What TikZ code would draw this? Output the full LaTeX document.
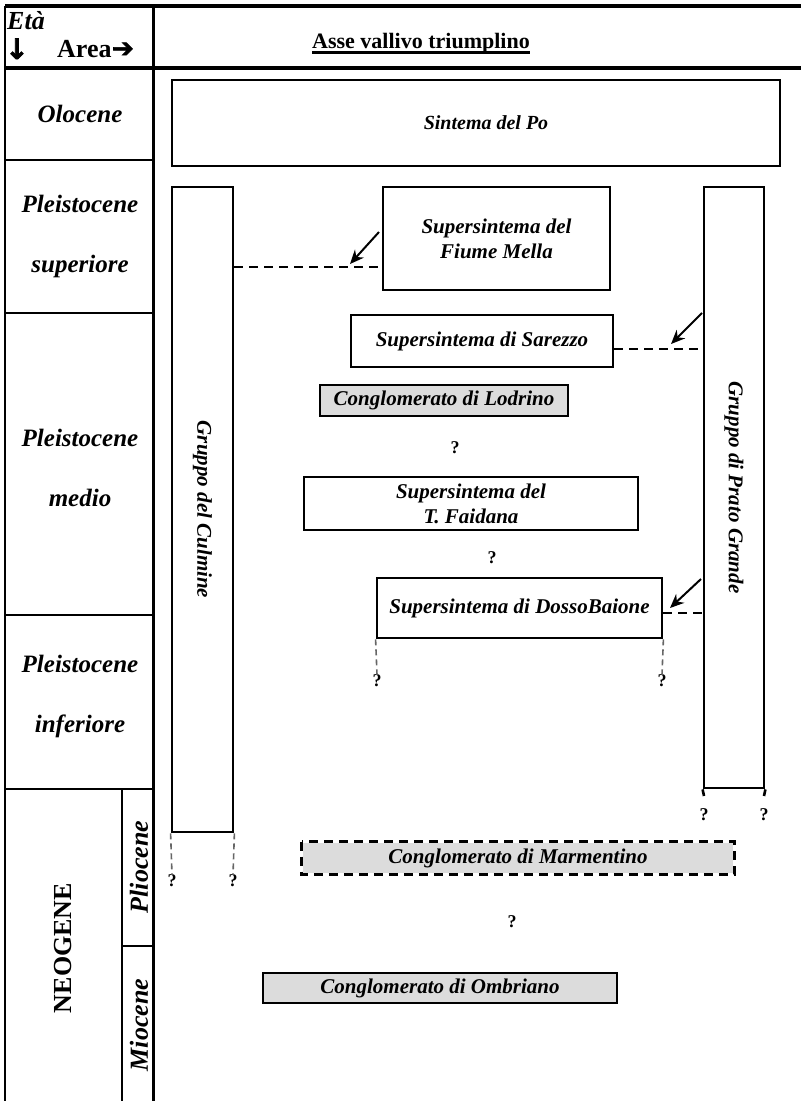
\documentclass[tikz,border=0pt]{standalone}
\usepackage{fontspec}
\setmainfont{Liberation Serif}
\newfontfamily\arrowfont{DejaVu Sans Bold}[FakeBold=2.5]
\usetikzlibrary{arrows.meta}
\definecolor{fillgray}{HTML}{DCDCDC}
\begin{document}
\begin{tikzpicture}[x=1pt,y=-1pt,
  box/.style={draw, line width=2.8pt, inner sep=0pt, align=center,
    font=\fontsize{21}{25}\selectfont\bfseries\itshape},
  graybox/.style={box, fill=fillgray},
  grouptext/.style={inner sep=0pt, font=\fontsize{21}{25}\selectfont\bfseries\itshape},
  agelabel/.style={inner sep=0pt, align=center, font=\fontsize{25}{60}\selectfont\bfseries\itshape},
  sidelabel/.style={inner sep=0pt, font=\fontsize{26}{26}\selectfont\bfseries\itshape},
  thickline/.style={line width=3.5pt},
  tline/.style={line width=2.6pt},
  thinline/.style={line width=1.8pt},
  dashlink/.style={line width=2.8pt, dash pattern=on 9pt off 6pt},
  qdash/.style={line width=1.6pt, dash pattern=on 6pt off 4pt, black!60},
  qmark/.style={inner sep=0pt, font=\fontsize{18}{18}\selectfont\bfseries},
  ptr/.style={line width=2pt, -{Stealth[length=14pt,width=12pt]}}
]
\useasboundingbox (0,0) rectangle (801,1101);

% ---- table frame ----
\coordinate (tl) at (5,6);
\coordinate (tr) at (801,6);
\coordinate (hl) at (5,68);
\coordinate (hr) at (801,68);
\coordinate (bl) at (5,1101);
\coordinate (ct) at (153,6);
\coordinate (cb) at (153,1101);
\draw[thickline] (tl) -- (tr);
\draw[thickline] (hl) -- (hr);
\draw[thinline] (tl) -- (bl);
\draw[line width=3pt] (ct) -- (cb);
\foreach \yy/\nm in {160/r1, 313/r2, 615/r3, 789/r4}{
  \coordinate (\nm l) at (5,\yy);
  \coordinate (\nm r) at (153,\yy);
  \draw[tline] (\nm l) -- (\nm r);
}
\coordinate (nt) at (122,789);
\coordinate (nb) at (122,1101);
\draw[tline] (nt) -- (nb);
\coordinate (pml) at (122,946);
\coordinate (pmr) at (153,946);
\draw[thinline] (pml) -- (pmr);

% ---- header ----
\node[inner sep=0pt, anchor=base west, font=\fontsize{26}{26}\selectfont\bfseries\itshape] (eta) at (7,29) {Età};
\node[inner sep=0pt, anchor=base west, font=\fontsize{28}{28}\selectfont\arrowfont] (darr) at (5,59) {↓};
\node[inner sep=0pt, anchor=base west, font=\fontsize{26}{26}\selectfont\bfseries] (area) at (57,57) {Area};
\node[inner sep=0pt, anchor=base west, font=\fontsize{26}{26}\selectfont\arrowfont] (rarr) at (area.base east) {➔};
\node[inner sep=0pt, anchor=base, font=\fontsize{22}{22}\selectfont\bfseries] (title) at (421,48) {Asse vallivo triumplino};
\draw[line width=3.5pt] ([yshift=-4.5pt]title.base west) -- ([yshift=-4.5pt]title.base east);

% ---- age labels ----
\node[agelabel] (olo) at (80,114) {Olocene};
\node[agelabel] (psup) at (80,236) {Pleistocene\\superiore};
\node[agelabel] (pmed) at (80,468) {Pleistocene\\medio};
\node[agelabel] (pinf) at (80,696) {Pleistocene\\inferiore};
\node[inner sep=0pt, rotate=90, font=\fontsize{26}{26}\selectfont\bfseries] (neo) at (63,948) {NEOGENE};
\node[sidelabel, rotate=90] (plio) at (139,867) {Pliocene};
\node[sidelabel, rotate=90] (mio) at (139,1025) {Miocene};

% ---- units ----
\node[box, font=\fontsize{20}{24}\selectfont\bfseries\itshape, minimum width=608pt, minimum height=86pt] (po) at (476,123) {\hspace*{20pt}Sintema del Po};
\node[box, minimum width=61pt, minimum height=645pt] (culmine) at (202.5,509.5) {};
\node[grouptext, rotate=-90] (culminetext) at (culmine.center) {Gruppo del Culmine};
\node[box, minimum width=60pt, minimum height=601pt] (prato) at (734,487.5) {};
\node[grouptext, rotate=-90] (pratotext) at (prato.center) {Gruppo di Prato Grande};
\node[box, minimum width=227pt, minimum height=103pt] (mella) at (496.5,238.5) {Supersintema del\\Fiume Mella};
\node[box, minimum width=262pt, minimum height=52pt] (sarezzo) at (482,341) {Supersintema di Sarezzo};
\node[graybox, minimum width=248pt, minimum height=31pt] (lodrino) at (444,400.5) {Conglomerato di Lodrino};
\node[box, minimum width=334pt, minimum height=53pt] (faidana) at (471,503.5) {Supersintema del\\T. Faidana};
\node[box, minimum width=285pt, minimum height=60pt] (dosso) at (519.5,608) {Supersintema di DossoBaione};
\node[graybox, draw=none, minimum width=430pt, minimum height=30pt] (marm) at (518,858) {Conglomerato di Marmentino};
\draw[dashlink] (marm.north west) rectangle (marm.south east);
\node[graybox, minimum width=354pt, minimum height=30pt] (ombr) at (440,988) {Conglomerato di Ombriano};

% ---- question marks ----
\node[qmark] (q1) at (455,448) {?};
\node[qmark] (q2) at (492,558) {?};
\node[qmark] (q3) at (512,922) {?};
\node[qmark] (qd1) at (377,681) {?};
\node[qmark] (qd2) at (662,681) {?};
\node[qmark] (qc1) at (172,881) {?};
\node[qmark] (qc2) at (233,881) {?};
\node[qmark] (qp1) at (704,815) {?};
\node[qmark] (qp2) at (764,815) {?};

% ---- dashed extensions ----
\draw[qdash] (dosso.south west) -- (qd1.north);
\draw[qdash] (dosso.south east) -- (qd2.north);
\draw[qdash] (culmine.south west) -- (qc1.north);
\draw[qdash] (culmine.south east) -- (qc2.north);
\coordinate (tp1) at (704,796);
\coordinate (tp2) at (764,796);
\draw[tline] (prato.south west) -- (tp1);
\draw[tline] (prato.south east) -- (tp2);

% ---- correlation links ----
\coordinate (y1) at (0,267);
\coordinate (y2) at (0,349);
\coordinate (y3) at (0,613);
\draw[dashlink] (culmine.east |- y1) -- (mella.west |- y1);
\draw[dashlink] (sarezzo.east |- y2) -- (prato.west |- y2);
\draw[dashlink] (dosso.east |- y3) -- (prato.west |- y3);

\coordinate (a1s) at (379,232);
\coordinate (a1e) at (350,264);
\coordinate (a2s) at (702,313);
\coordinate (a2e) at (671,344);
\coordinate (a3s) at (701,579);
\coordinate (a3e) at (670,608);
\draw[ptr] (a1s) -- (a1e);
\draw[ptr] (a2s) -- (a2e);
\draw[ptr] (a3s) -- (a3e);
\end{tikzpicture}
\end{document}
